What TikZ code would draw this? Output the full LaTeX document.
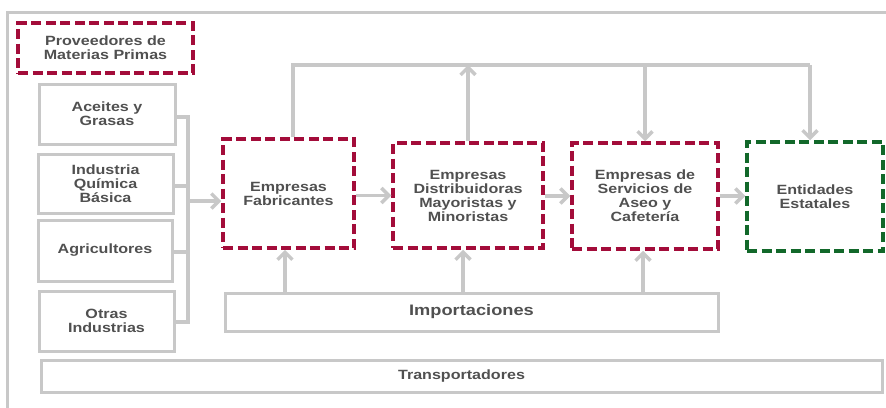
\documentclass[tikz,border=0pt]{standalone}
\usepackage{fontspec}
\setmainfont{Liberation Sans}[FakeStretch=1.2]
\usetikzlibrary{arrows.meta}
\definecolor{lgray}{RGB}{200,200,200}
\definecolor{dred}{RGB}{163,12,58}
\definecolor{dgreen}{RGB}{18,104,42}
\definecolor{txt}{RGB}{80,80,80}
\tikzset{
  base/.style={rectangle, align=center, text=txt, font=\bfseries\fontsize{13.4}{14}\selectfont, inner sep=0pt},
  graybox/.style={base, draw=lgray, line width=3pt},
  redbox/.style={base, draw=dred, line width=3.5pt, dash pattern=on 10pt off 4.5pt},
  greenbox/.style={base, draw=dgreen, line width=3.5pt, dash pattern=on 10pt off 4.5pt},
  conn/.style={draw=lgray, line width=3.5pt},
  arr/.style={conn, -{Straight Barb[length=7.5pt,width=15pt]}}
}
\begin{document}
\begin{tikzpicture}[x=1pt,y=-1pt]
\useasboundingbox (0,0) rectangle (886,407);
% outer frame
\coordinate (fbl) at (7,410);
\coordinate (ftl) at (7,12);
\coordinate (ftr) at (890,12);
\draw[draw=lgray, line width=3pt] (fbl) -- (ftl) -- (ftr);

\node[redbox, minimum width=175pt, minimum height=50pt] (prov) at (105.5,48) {Proveedores de\\Materias Primas};
\node[graybox, minimum width=136pt, minimum height=60pt] (ace) at (107,114) {Aceites y\\Grasas};
\node[graybox, minimum width=135pt, minimum height=59pt] (qui) at (105.5,184) {Industria\\Química\\Básica};
\node[graybox, minimum width=134pt, minimum height=61pt] (agr) at (105,250.5) {Agricultores};
\node[graybox, minimum width=135pt, minimum height=60pt] (otr) at (106.5,321) {Otras\\Industrias};

\node[redbox, minimum width=131pt, minimum height=109pt] (fab) at (288.5,193.5) {Empresas\\Fabricantes};
\node[redbox, minimum width=150pt, minimum height=105pt] (dis) at (468,195.5) {Empresas\\Distribuidoras\\Mayoristas y\\Minoristas};
\node[redbox, minimum width=146pt, minimum height=106pt] (ser) at (645,196) {Empresas de\\Servicios de\\Aseo y\\Cafetería};
\node[greenbox, minimum width=136pt, minimum height=109pt] (ent) at (815,196.5) {Entidades\\Estatales};

\node[graybox, minimum width=493pt, minimum height=38pt, font=\bfseries\fontsize{15.2}{16}\selectfont] (imp) at (471.5,312) {Importaciones};
\node[graybox, minimum width=841pt, minimum height=32pt] (tra) at (461.5,376) {Transportadores};

% bracket
\coordinate (bx) at (188,201);
\coordinate (b1) at (188,117);
\coordinate (b2) at (188,186);
\coordinate (b3) at (188,252);
\coordinate (b4) at (188,322);
\draw[conn] (b1 -| ace.east) -- (b1) -- (b4) -- (b4 -| otr.east);
\draw[conn] (b2 -| qui.east) -- (b2);
\draw[conn] (b3 -| agr.east) -- (b3);
\draw[arr] (bx) -- (bx -| fab.west);

% horizontal flow
\draw[arr] (fab.east |- dis.west) -- (dis.west);
\draw[arr] (dis.east |- ser.west) -- (ser.west);
\draw[arr] (ser.east) -- (ser.east -| ent.west);

% top line
\coordinate (tl) at (293,65);
\coordinate (tr) at (810,65);
\draw[conn] (tl |- fab.north) -- (tl) -- (tr);
\draw[arr] (tr) -- (tr |- ent.north);
\draw[arr] (dis.north) -- (dis.north |- tl);
\draw[arr] (ser.north |- tl) -- (ser.north);

% importaciones arrows
\coordinate (i1) at (285,293);
\coordinate (i2) at (463,293);
\coordinate (i3) at (643,293);
\draw[arr] (i1) -- (i1 |- fab.south);
\draw[arr] (i2) -- (i2 |- dis.south);
\draw[arr] (i3) -- (i3 |- ser.south);
\end{tikzpicture}
\end{document}
